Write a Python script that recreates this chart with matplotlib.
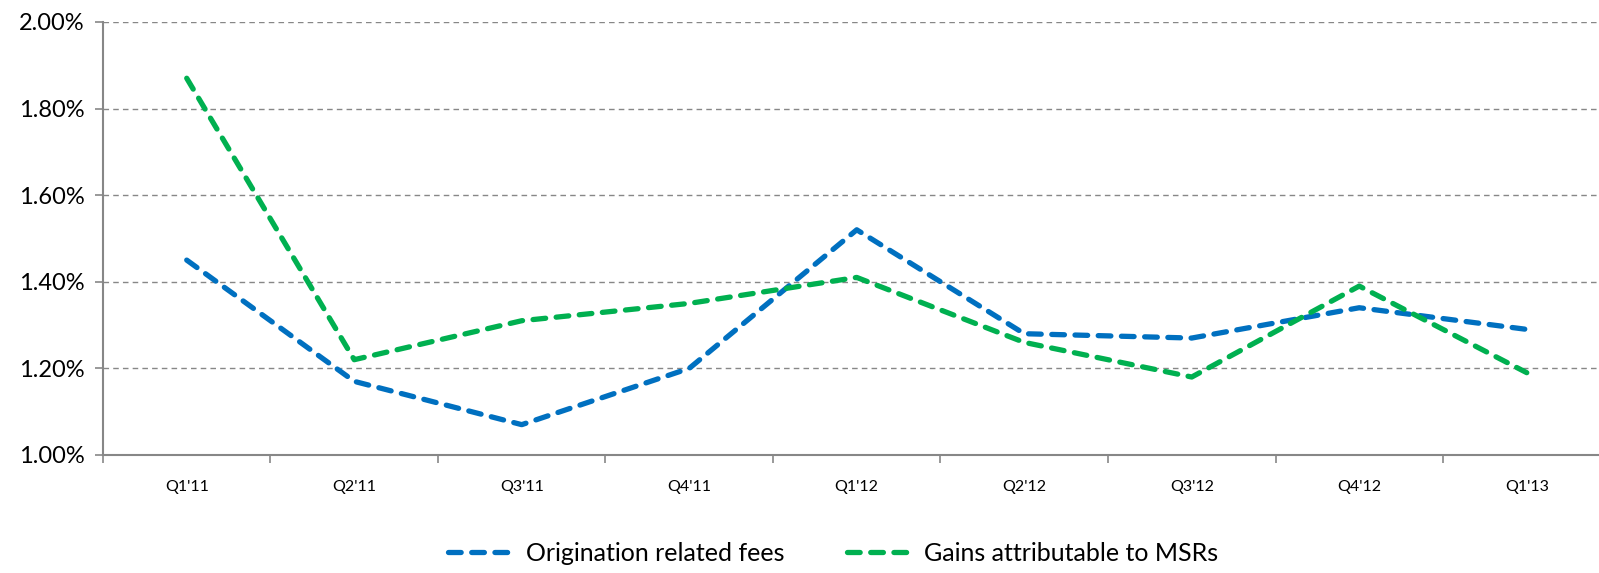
import numpy as np
import matplotlib
matplotlib.use("Agg")
import matplotlib.pyplot as plt
from matplotlib.ticker import FuncFormatter

# data
quarters = ["Q1'11", "Q2'11", "Q3'11", "Q4'11", "Q1'12", "Q2'12", "Q3'12", "Q4'12", "Q1'13"]
origination_fees = [1.45, 1.17, 1.07, 1.20, 1.52, 1.28, 1.27, 1.34, 1.29]
msr_gains = [1.87, 1.22, 1.31, 1.35, 1.41, 1.26, 1.18, 1.39, 1.19]
y_ticks = [1.00, 1.20, 1.40, 1.60, 1.80, 2.00]

plt.rcParams['font.family'] = ['Lato', 'DejaVu Sans']

fig = plt.figure(figsize=(15.99, 5.73), dpi=100)
ax = fig.add_axes([0.0644, 0.206, 0.9428, 0.7557])

x = np.arange(len(quarters))
grid_col = '#878787'

# gridlines
for v in y_ticks[1:]:
    ax.axhline(v, color=grid_col, lw=1.0, ls=(0, (4, 3)), zorder=1)

ax.plot(x, origination_fees, color='#0070C0', lw=3.8, dashes=(2.4, 2.0),
        dash_capstyle='round', solid_capstyle='round', label='Origination related fees', zorder=3)
ax.plot(x, msr_gains, color='#00B050', lw=3.8, dashes=(2.4, 2.0),
        dash_capstyle='round', solid_capstyle='round', label='Gains attributable to MSRs', zorder=3)

ax.set_xlim(-0.5, len(quarters) - 0.5)
ax.set_ylim(1.0, 2.0)

ax.set_xticks(x)
ax.set_xticklabels(quarters, fontsize=11.5)
ax.set_xticks(np.arange(-0.5, len(quarters), 1.0), minor=True)
ax.tick_params(axis='x', which='major', length=0, pad=18)
ax.tick_params(axis='x', which='minor', length=6, width=1.2, color=grid_col, direction='out')

ax.set_yticks(y_ticks)
ax.yaxis.set_major_formatter(FuncFormatter(lambda v, p: f"{v:.2f}%"))
ax.tick_params(axis='y', length=6, width=1.2, color=grid_col, labelsize=17, pad=7)

for side in ['top', 'right']:
    ax.spines[side].set_visible(False)
for side in ['left', 'bottom']:
    ax.spines[side].set_color(grid_col)
    ax.spines[side].set_linewidth(1.5)

fig.legend(loc='lower center', bbox_to_anchor=(0.521, -0.025), ncol=2, frameon=False,
           fontsize=18, handlelength=2.6, columnspacing=2.5, handletextpad=0.5)

fig.savefig('out.png', dpi=100)
